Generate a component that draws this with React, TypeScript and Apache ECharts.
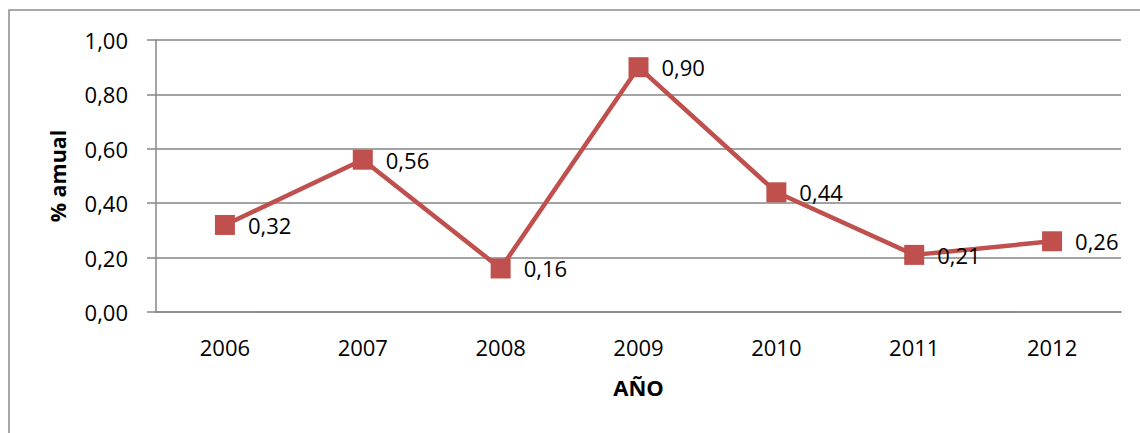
import React, { useEffect, useRef } from "react";
import * as echarts from "echarts";

const years = ["2006", "2007", "2008", "2009", "2010", "2011", "2012"];
const values = [0.32, 0.56, 0.16, 0.9, 0.44, 0.21, 0.26];
const yAxisTitle = "% amual";
const xAxisTitle = "AÑO";

const FONT = "'Open Sans', 'Noto Sans', sans-serif";
const fmt = (v: number) => v.toFixed(2).replace(".", ",");

export default function App() {
  const ref = useRef<HTMLDivElement>(null);
  useEffect(() => {
    const chart = echarts.init(ref.current!, null, { renderer: "svg" });
    chart.setOption({
      animation: false,
      backgroundColor: "#ffffff",
      graphic: [
        {
          type: "rect",
          shape: { x: 9, y: 10, width: 1200, height: 500 },
          style: { fill: "none", stroke: "#8c8c8c", lineWidth: 1.5 },
          silent: true,
        },
      ],
      grid: { left: 156, top: 40, right: 19, bottom: 121, containLabel: false },
      xAxis: {
        type: "category",
        data: years,
        boundaryGap: true,
        name: xAxisTitle,
        nameLocation: "middle",
        nameGap: 64,
        nameTextStyle: { fontFamily: FONT, fontSize: 22, fontWeight: "bold", color: "#000" },
        axisLine: { lineStyle: { color: "#868686", width: 1.5 } },
        axisTick: { show: false },
        axisLabel: { fontFamily: FONT, fontSize: 22, color: "#000", margin: 24 },
        splitLine: { show: false },
      },
      yAxis: {
        type: "value",
        min: 0,
        max: 1,
        interval: 0.2,
        name: yAxisTitle,
        nameLocation: "middle",
        nameGap: 88,
        nameRotate: 90,
        nameTextStyle: { fontFamily: FONT, fontSize: 21.5, fontWeight: "bold", color: "#000" },
        axisLine: { show: true, lineStyle: { color: "#868686", width: 1.5 } },
        axisTick: { show: true, inside: false, length: 9, lineStyle: { color: "#868686", width: 1.5 } },
        axisLabel: { fontFamily: FONT, fontSize: 22, color: "#000", margin: 28, formatter: (v: number) => fmt(v) },
        splitLine: { show: true, lineStyle: { color: "#868686", width: 1.5 } },
      },
      series: [
        {
          type: "line",
          data: values,
          symbol: "rect",
          symbolSize: 20,
          lineStyle: { color: "#C0504D", width: 4.5 },
          itemStyle: { color: "#C0504D" },
          label: {
            show: true,
            position: "right",
            distance: 13,
            offset: [0, 0],
            fontFamily: FONT,
            fontSize: 22,
            color: "#000",
            formatter: (p: any) => fmt(p.value),
          },
          z: 3,
        },
      ],
    });
    return () => chart.dispose();
  }, []);
  return (
    <div
      ref={ref}
      style={{ position: "fixed", left: 0, top: 0, width: 1140, height: 433, background: "#fff" }}
    />
  );
}
